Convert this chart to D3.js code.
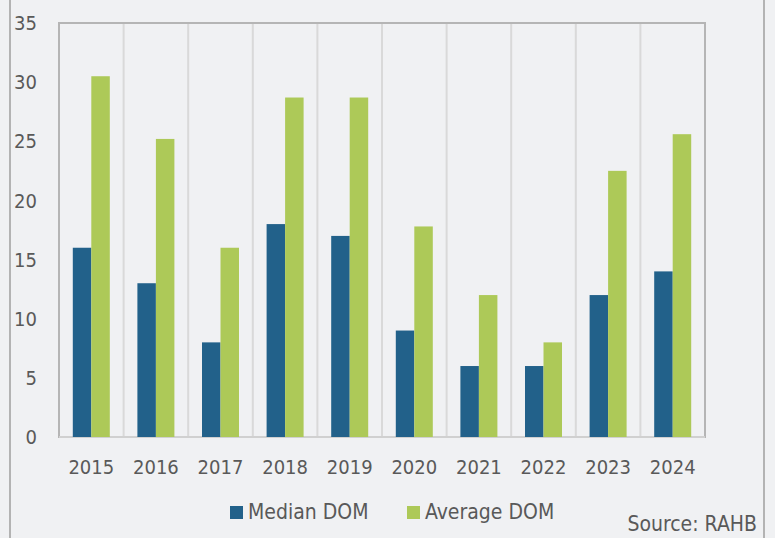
<!DOCTYPE html>
<html lang="en">
<head>
    <meta charset="utf-8" />
    <title>Median and Average DOM</title>
    <style>
        body {
            margin: 0;
            background-color: #f0f1f3;
            font-family: 'DejaVu Sans Condensed', 'DejaVu Sans', sans-serif;
            font-stretch: condensed;
        }

        text {
            fill: #595959;
            font-size: 21px;
        }

        text.tick {
            font-size: 20px;
        }

        line.grid {
            stroke: #d9d9d9;
            stroke-width: 2px;
        }
    </style>
    <script src="https://d3js.org/d3.v7.min.js"></script>
</head>
<body>
    <svg id="vis" width="775" height="538"></svg>
    <script type="text/javascript">
        var years = ["2015", "2016", "2017", "2018", "2019", "2020", "2021", "2022", "2023", "2024"];
        var medianDom = [16, 13, 8, 18, 17, 9, 6, 6, 12, 14];
        var averageDom = [30.5, 25.2, 16, 28.7, 28.7, 17.8, 12, 8, 22.5, 25.6];
        var yTicks = [0, 5, 10, 15, 20, 25, 30, 35];
        var seriesNames = ["Median DOM", "Average DOM"];
        var fills = ["#22618a", "#adc958"];

        var width = 775;
        var height = 538;
        var margin = { top: 23, left: 59, bottom: 101, right: 70 };

        var svg = d3.select("#vis");

        // outer frame lines (left and right)
        svg.append("line").attr("x1", 10).attr("x2", 10).attr("y1", 0).attr("y2", height)
            .attr("stroke", "#b3b3b3").attr("stroke-width", 2);
        svg.append("line").attr("x1", 764).attr("x2", 764).attr("y1", 0).attr("y2", height)
            .attr("stroke", "#b3b3b3").attr("stroke-width", 2);

        var x = d3.scaleBand()
            .domain(years)
            .range([margin.left, width - margin.right]);

        var y = d3.scaleLinear()
            .domain([0, 35])
            .range([height - margin.bottom, margin.top]);

        var barW = 18.5;

        // vertical dividers between categories
        svg.append("g").selectAll("line.grid").data(years.slice(1))
            .enter().append("line").attr("class", "grid")
            .attr("x1", (d) => x(d)).attr("x2", (d) => x(d))
            .attr("y1", y(35)).attr("y2", y(0));

        // plot border
        svg.append("rect")
            .attr("x", x.range()[0]).attr("y", y(35))
            .attr("width", x.range()[1] - x.range()[0]).attr("height", y(0) - y(35))
            .attr("fill", "none").attr("stroke", "#b5b5b5").attr("stroke-width", 2);
        svg.append("line")
            .attr("x1", x.range()[0]).attr("x2", x.range()[1]).attr("y1", y(0)).attr("y2", y(0))
            .attr("stroke", "#d0d0d0").attr("stroke-width", 2);

        var groups = svg.append("g").attr("class", "bars").selectAll("g.year").data(years)
            .enter().append("g").attr("class", "year")
            .attr("transform", (d) => "translate(" + (x(d) + x.bandwidth() / 2) + ", 0)");

        groups.append("rect")
            .attr("x", -barW).attr("width", barW)
            .attr("y", (d, i) => y(medianDom[i])).attr("height", (d, i) => y(0) - y(medianDom[i]))
            .attr("fill", fills[0]);

        groups.append("rect")
            .attr("x", 0).attr("width", barW)
            .attr("y", (d, i) => y(averageDom[i])).attr("height", (d, i) => y(0) - y(averageDom[i]))
            .attr("fill", fills[1]);

        // y labels
        svg.append("g").selectAll("text").data(yTicks).enter().append("text").attr("class", "tick")
            .attr("x", 37).attr("y", (d) => y(d)).attr("dy", "0.36em")
            .attr("text-anchor", "end").text((d) => d);

        // x labels
        svg.append("g").selectAll("text").data(years).enter().append("text").attr("class", "tick")
            .attr("x", (d) => x(d) + x.bandwidth() / 2).attr("y", 474)
            .attr("text-anchor", "middle").text((d) => d);

        // legend
        var legendX = [230, 407];
        var legend = svg.append("g").selectAll("g").data(seriesNames).enter().append("g")
            .attr("transform", (d, i) => "translate(" + legendX[i] + ", 506)");
        legend.append("rect").attr("width", 13).attr("height", 13).attr("fill", (d, i) => fills[i]);
        legend.append("text").attr("x", 18).attr("y", 13).text((d) => d);

        svg.append("text").attr("x", 757).attr("y", 531).attr("text-anchor", "end").text("Source: RAHB");
    </script>
</body>
</html>
